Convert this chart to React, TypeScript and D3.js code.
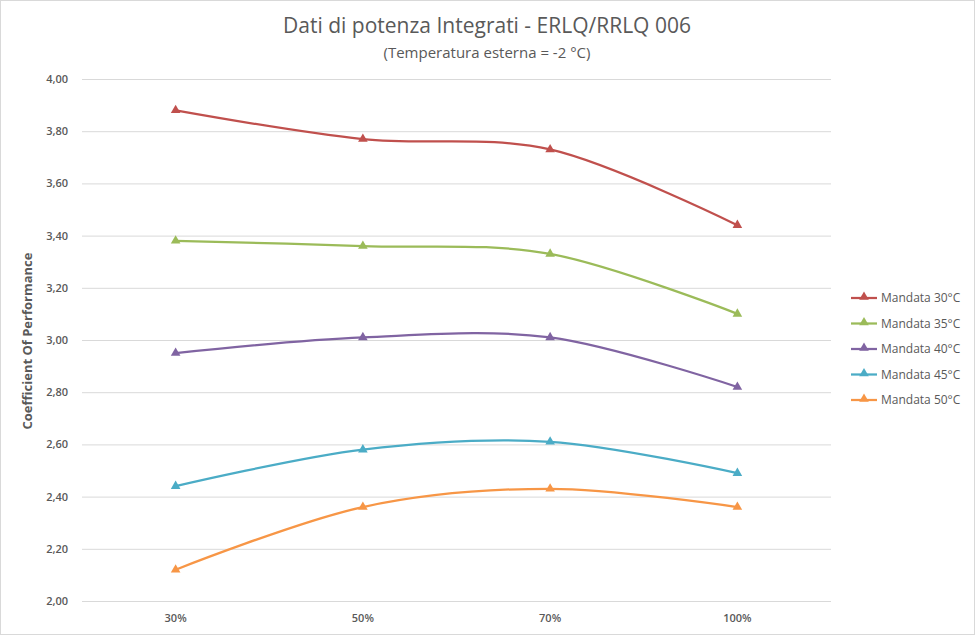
import { useEffect, useRef } from 'react';
import * as d3 from 'd3';

const categories = ['30%', '50%', '70%', '100%'];
const seriesNames = ['Mandata 30°C', 'Mandata 35°C', 'Mandata 40°C', 'Mandata 45°C', 'Mandata 50°C'];
const mandata30 = [3.88, 3.77, 3.73, 3.44];
const mandata35 = [3.38, 3.36, 3.33, 3.1];
const mandata40 = [2.95, 3.01, 3.01, 2.82];
const mandata45 = [2.44, 2.58, 2.61, 2.49];
const mandata50 = [2.12, 2.36, 2.43, 2.36];
const yTicks = [2.0, 2.2, 2.4, 2.6, 2.8, 3.0, 3.2, 3.4, 3.6, 3.8, 4.0];
const colors = ['#C0504D', '#9BBB59', '#8064A2', '#4BACC6', '#F79646'];

const seriesValues = [mandata30, mandata35, mandata40, mandata45, mandata50];

const FONT = '"Open Sans", "Liberation Sans", sans-serif';

export default function App() {
  const svgRef = useRef<SVGSVGElement>(null);

  useEffect(() => {
    if (!svgRef.current) return;
    const svg = d3.select(svgRef.current);
    svg.selectAll('*').remove();

    const W = 975;
    const H = 635;
    const margin = { top: 79, right: 144, bottom: 34, left: 82 };
    const width = W - margin.left - margin.right;
    const height = H - margin.top - margin.bottom;

    // chart frame
    svg.append('rect')
      .attr('x', 0.5).attr('y', 0.5)
      .attr('width', W - 1).attr('height', H - 1)
      .attr('fill', '#fff')
      .attr('stroke', '#d9d9d9');

    const g = svg.append('g').attr('transform', `translate(${margin.left},${margin.top})`);

    const x = d3.scaleBand().domain(categories).range([0, width]);
    const y = d3.scaleLinear().domain([2, 4]).range([height, 0]);
    const cx = (c: string) => x(c)! + x.bandwidth() / 2;

    // grid
    g.append('g')
      .call(d3.axisLeft(y).tickValues(yTicks).tickSize(-width).tickPadding(14)
        .tickFormat(d => d3.format('.2f')(d as number).replace('.', ',')))
      .call(a => a.select('.domain').remove())
      .call(a => a.selectAll('.tick line').attr('stroke', '#d9d9d9').attr('stroke-width', 1))
      .call(a => a.selectAll('.tick text')
        .attr('fill', '#595959').attr('font-size', '11px').attr('font-weight', '600')
        .attr('font-family', FONT));

    // x labels
    g.append('g')
      .attr('transform', `translate(0,${height})`)
      .call(d3.axisBottom(x).tickSize(0).tickPadding(13))
      .call(a => a.select('.domain').remove())
      .call(a => a.selectAll('.tick text')
        .attr('fill', '#595959').attr('font-size', '11px').attr('font-weight', '600')
        .attr('font-family', FONT));

    const line = d3.line<number>()
      .x((_, i) => cx(categories[i]))
      .y(d => y(d))
      .curve(d3.curveCardinal.tension(0));

    const tri = d3.symbol().type(d3.symbolTriangle).size(40);

    seriesValues.forEach((vals, si) => {
      g.append('path')
        .datum(vals)
        .attr('d', line)
        .attr('fill', 'none')
        .attr('stroke', colors[si])
        .attr('stroke-width', 2.25)
        .attr('stroke-linecap', 'round');
      g.selectAll(`.m${si}`)
        .data(vals)
        .enter()
        .append('path')
        .attr('d', tri)
        .attr('transform', (d, i) => `translate(${cx(categories[i])},${y(d)})`)
        .attr('fill', colors[si]);
    });

    // title
    svg.append('text')
      .attr('x', 487).attr('y', 33)
      .attr('text-anchor', 'middle')
      .attr('fill', '#595959')
      .attr('font-family', FONT)
      .attr('font-size', '21px')
      .text('Dati di potenza Integrati - ERLQ/RRLQ 006');
    svg.append('text')
      .attr('x', 487).attr('y', 58)
      .attr('text-anchor', 'middle')
      .attr('fill', '#595959')
      .attr('font-family', FONT)
      .attr('font-size', '15px')
      .text('(Temperatura esterna = -2 °C)');

    // y axis title
    svg.append('text')
      .attr('transform', `translate(32,${margin.top + height / 2 + 1}) rotate(-90)`)
      .attr('text-anchor', 'middle')
      .attr('fill', '#595959')
      .attr('font-family', FONT)
      .attr('font-size', '13px')
      .attr('font-weight', '700')
      .text('Coefficient Of Performance');

    // legend
    const legend = svg.append('g').attr('transform', 'translate(851,298)');
    seriesNames.forEach((name, i) => {
      const row = legend.append('g').attr('transform', `translate(0,${i * 25.5})`);
      row.append('line')
        .attr('x1', 0).attr('x2', 26).attr('y1', 0).attr('y2', 0)
        .attr('stroke', colors[i]).attr('stroke-width', 2.25);
      row.append('path').attr('d', tri).attr('transform', 'translate(13,-1)').attr('fill', colors[i]);
      row.append('text')
        .attr('x', 30).attr('y', 0).attr('dy', '0.35em')
        .attr('fill', '#595959')
        .attr('font-family', FONT)
        .attr('font-size', '12px')
        .text(name);
    });
  }, []);

  return (
    <svg
      ref={svgRef}
      width={975}
      height={635}
      style={{ position: 'absolute', left: 0, top: 0, display: 'block' }}
    />
  );
}
